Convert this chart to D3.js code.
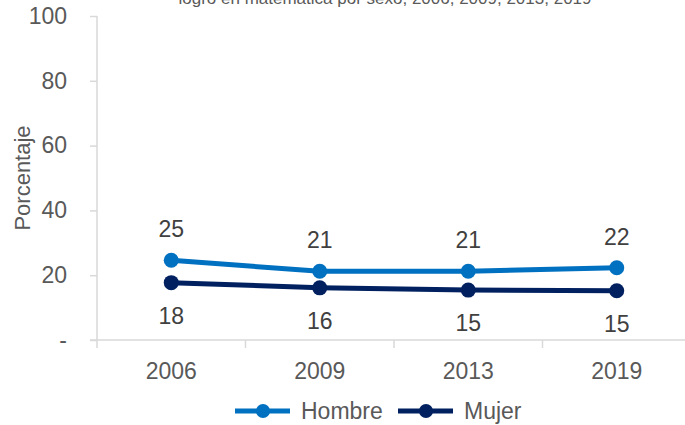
<!DOCTYPE html>
<html><head><meta charset="utf-8">
<script src="https://cdn.jsdelivr.net/npm/d3@7"></script>
<style>body{margin:0;background:#fff}text{font-family:"Liberation Sans",Arial,sans-serif}</style>
</head><body>
<svg id="c" width="685" height="425"></svg>
<script>
const years = ["2006","2009","2013","2019"];
const hombre = [24.6, 21.2, 21.2, 22.3];
const mujer = [17.7, 16.1, 15.4, 15.2];
const yTicks = [0, 20, 40, 60, 80, 100];
const title = "logro en matemática por sexo, 2006, 2009, 2013, 2019";
const series = [
  {name:"Hombre", values:hombre, color:"#0070C0", labelDy:-23},
  {name:"Mujer", values:mujer, color:"#002060", labelDy:41}
];
const svg = d3.select("#c");
const x = d3.scaleBand().domain(years).range([97, 691]);
const y = d3.scaleLinear().domain([0,100]).range([340, 16]);
const axisColor = "#d9d9d9", textColor = "#595959";
const FS = 23;

svg.append("text").attr("x", 385).attr("y", 4).attr("text-anchor","middle")
  .attr("font-size", 17).attr("fill", textColor).text(title);

// y axis
const ya = svg.append("g").attr("transform","translate(97,0)")
  .call(d3.axisLeft(y).tickValues(yTicks).tickSize(7).tickPadding(23).tickFormat(d => d===0 ? "-" : d));
ya.select(".domain").attr("stroke", axisColor).attr("stroke-width",1.5).attr("d","M0,16V340");
ya.selectAll(".tick line").attr("stroke", axisColor).attr("stroke-width",1.5);
ya.selectAll(".tick text").attr("font-size", FS).attr("fill", textColor).attr("font-family",'"Liberation Sans",Arial,sans-serif');

// x axis
const xa = svg.append("g").attr("transform","translate(0,340)")
  .call(d3.axisBottom(x).tickSize(0).tickPadding(23));
xa.select(".domain").attr("stroke", axisColor).attr("stroke-width",1.5).attr("d","M90,0H685");
xa.selectAll(".tick text").attr("font-size", FS).attr("fill", textColor).attr("font-family",'"Liberation Sans",Arial,sans-serif');
svg.append("g").selectAll("line").data(years).join("line")
  .attr("x1", d => x(d)).attr("x2", d => x(d)).attr("y1", 340).attr("y2", 348)
  .attr("stroke", axisColor).attr("stroke-width", 1.5);

svg.append("text").attr("transform","translate(30,178) rotate(-90)")
  .attr("text-anchor","middle").attr("font-size",22).attr("fill",textColor).text("Porcentaje");

const cx = d => x(d) + x.bandwidth()/2;
const line = d3.line().x((d,i) => cx(years[i])).y(d => y(d));
series.forEach(s => {
  svg.append("path").datum(s.values).attr("d", line).attr("fill","none")
    .attr("stroke", s.color).attr("stroke-width", 5);
  svg.append("g").selectAll("circle").data(s.values).join("circle")
    .attr("cx", (d,i) => cx(years[i])).attr("cy", d => y(d)).attr("r", 7.5).attr("fill", s.color);
  svg.append("g").selectAll("text").data(s.values).join("text")
    .attr("x", (d,i) => cx(years[i])).attr("y", d => y(d) + s.labelDy)
    .attr("text-anchor","middle").attr("font-size",FS).attr("fill","#404040")
    .text(d => Math.round(d));
});

// legend
const leg = [{x:235},{x:398}];
series.forEach((s,i) => {
  const g = svg.append("g").attr("transform", `translate(${leg[i].x},411)`);
  g.append("line").attr("x1",0).attr("x2",55).attr("stroke",s.color).attr("stroke-width",5);
  g.append("circle").attr("cx",28).attr("r",7).attr("fill",s.color);
  g.append("text").attr("x",66).attr("y",8).attr("font-size",FS).attr("fill",textColor).text(s.name);
});
</script>
</body></html>
